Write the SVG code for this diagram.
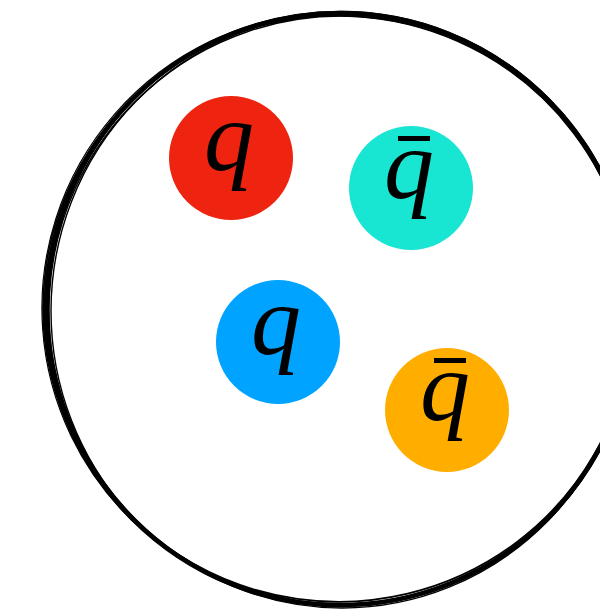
<svg xmlns="http://www.w3.org/2000/svg" width="600" height="612" viewBox="0 0 600 612">
<style>
.ring{fill:none;stroke:#000;}
.q{font-family:"Liberation Serif","Times New Roman",serif;font-style:italic;font-size:100px;fill:#000;text-anchor:middle;}
</style>
<rect width="600" height="612" fill="#fff"/>
<g id="boundary">
<ellipse class="ring" cx="340" cy="309" rx="294" ry="296" stroke-width="4.5"/>
<ellipse class="ring" cx="341" cy="310" rx="292" ry="294" stroke-width="1.5" transform="rotate(3 340 309)"/>
<ellipse class="ring" cx="339" cy="308" rx="297" ry="296" stroke-width="1.2" transform="rotate(-4 340 309)"/>
<ellipse class="ring" cx="342" cy="311" rx="291" ry="297" stroke-width="1.4"/>
<ellipse class="ring" cx="338" cy="309" rx="295" ry="293" stroke-width="1.8" transform="rotate(8 340 309)"/>
<ellipse class="ring" cx="340" cy="310" rx="296" ry="295" stroke-width="1.2" transform="rotate(-10 340 309)"/>
<ellipse class="ring" cx="341" cy="309" rx="293" ry="297" stroke-width="2.5"/>
</g>
<g id="q-red">
<circle cx="231" cy="158" r="62" fill="#EE2310"/>
<text class="q" x="229" y="170">q</text>
</g>
<g id="qbar-cyan">
<circle cx="411" cy="188" r="62" fill="#18E6D3"/>
<text class="q" x="409" y="198">q</text>
<rect x="398" y="136" width="32" height="5" fill="#000"/>
</g>
<g id="q-blue">
<circle cx="278" cy="342" r="62" fill="#00A3FF"/>
<text class="q" x="276" y="354">q</text>
</g>
<g id="qbar-orange">
<circle cx="447" cy="410" r="62" fill="#FFAE00"/>
<text class="q" x="445" y="420">q</text>
<rect x="434" y="358" width="32" height="5" fill="#000"/>
</g>
</svg>
